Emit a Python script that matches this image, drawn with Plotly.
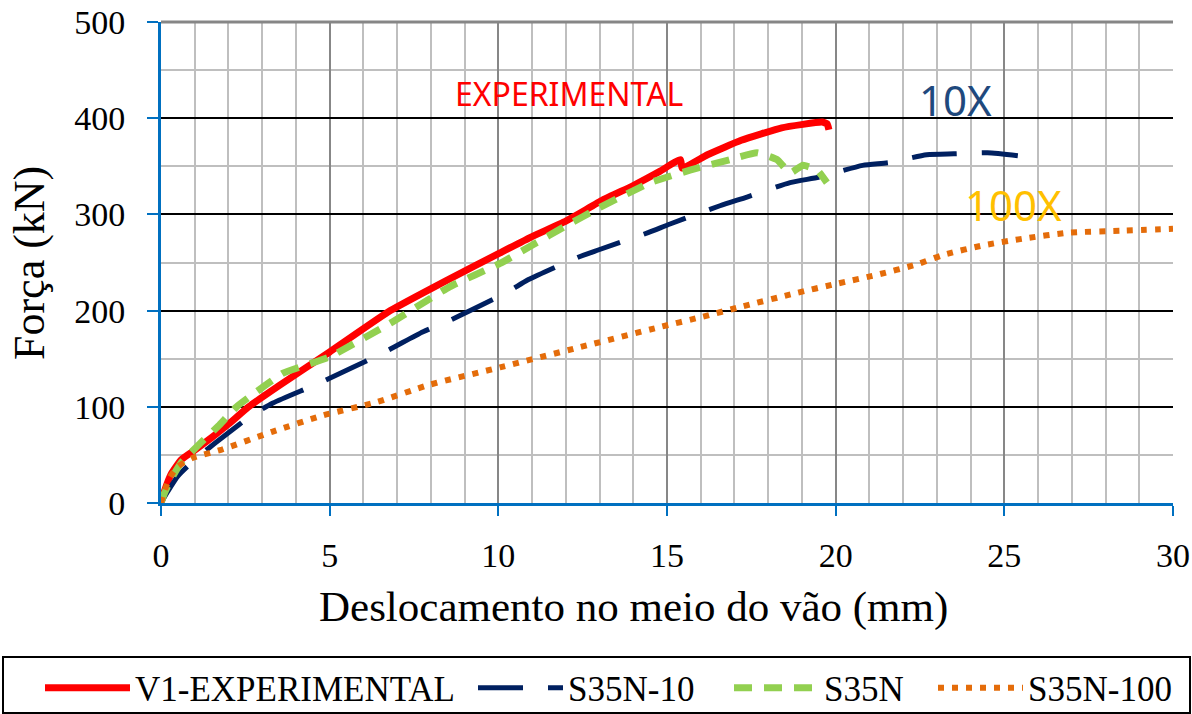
import plotly.graph_objects as go

# ---- data ----
exp_x = [0, 0.1, 0.3, 0.6, 1.0, 1.5, 2.0, 2.6, 3.5, 5.0, 6.8, 8.5, 10.05, 11.0, 12.0, 13.1, 14.0, 14.8, 15.4, 15.45, 16.2, 17.2, 18.4, 19.6, 19.75, 19.8]
exp_y = [0, 12, 30, 45, 55, 68, 82, 100, 122, 157, 200, 232, 260, 277, 293, 315, 330, 345, 357, 348, 362, 377, 390, 396, 394, 388]

s10_x = [0, 0.2, 0.5, 1.0, 1.45, 2.0, 2.64, 3.32, 4.71, 6.58, 7.77, 8.57, 10.26, 10.88, 12.33, 12.96, 14.44, 15.09, 16.57, 17.37, 18.65, 19.54, 20.8, 21.6, 22.7, 23.5, 24.5, 25.4]
s10_y = [0, 12, 28, 45, 58, 73, 90, 104, 125, 156, 178, 190, 219, 232, 255, 263, 281, 290, 309, 318, 333, 339, 351, 354, 362, 363, 364, 361]

s35_x = [0, 0.1, 0.3, 0.6, 1.16, 1.7, 2.24, 3.0, 3.62, 5.0, 6.8, 8.57, 10.05, 11.0, 12.0, 13.0, 14.5, 15.68, 16.87, 17.67, 18.26, 18.65, 19.03, 19.45, 19.74]
s35_y = [0, 10, 25, 42, 62, 80, 100, 120, 135, 152, 187, 225, 249, 268, 288, 307, 333, 346, 357, 364, 357, 343, 351, 346, 333]

s100_x = [0, 0.1, 0.27, 0.5, 0.95, 1.75, 3.29, 4.8, 6.4, 7.97, 10.05, 12.42, 14.8, 15.98, 17.2, 18.8, 20.04, 21.2, 22.4, 23.2, 24.4, 25.6, 26.9, 28.5, 30]
s100_y = [0, 12, 27, 38, 47, 55, 74, 91, 105, 123, 141, 162, 183, 193, 204, 218, 228, 237, 248, 258, 268, 275, 281, 283, 285]

series_names = ["V1-EXPERIMENTAL", "S35N-10", "S35N", "S35N-100"]
x_ticks = [0, 5, 10, 15, 20, 25, 30]
y_ticks = [0, 100, 200, 300, 400, 500]
x_title = "Deslocamento no meio do vão (mm)"
y_title = "Força (kN)"

SERIF = "Liberation Serif, Times New Roman, serif"

fig = go.Figure()
fig.add_trace(go.Scatter(x=exp_x, y=exp_y, mode="lines", name=series_names[0],
                         line=dict(color="#FF0000", width=7, shape="spline", smoothing=0.4), legend="legend"))
fig.add_trace(go.Scatter(x=s10_x, y=s10_y, mode="lines", name=series_names[1],
                         line=dict(color="#002060", width=5, dash="45px,25px", shape="spline", smoothing=0.6), legend="legend2"))
fig.add_trace(go.Scatter(x=s35_x, y=s35_y, mode="lines", name=series_names[2],
                         line=dict(color="#92D050", width=7, dash="18px,12px", shape="spline", smoothing=0.4), legend="legend3"))
fig.add_trace(go.Scatter(x=s100_x, y=s100_y, mode="lines", name=series_names[3],
                         line=dict(color="#E46C0A", width=6, dash="6px,8px", shape="spline", smoothing=0.6), legend="legend4"))

W, H = 1192, 714
L, R, T, B = 161, 19, 22, 211
pw, ph = W - L - R, H - T - B

def px2paper_x(px):
    return (px - L) / pw

def px2paper_y(py):
    return (H - B - py) / ph

leg_common = dict(orientation="h", itemwidth=85, bgcolor="rgba(0,0,0,0)",
                  font=dict(family=SERIF, size=35, color="black"),
                  xanchor="left", yanchor="middle", y=px2paper_y(688))

fig.update_layout(
    width=W, height=H,
    margin=dict(l=L, r=R, t=T, b=B, autoexpand=False),
    paper_bgcolor="white", plot_bgcolor="white",
    showlegend=True,
    legend=dict(x=px2paper_x(40), **leg_common),
    legend2=dict(x=px2paper_x(473), **leg_common),
    legend3=dict(x=px2paper_x(729), **leg_common),
    legend4=dict(x=px2paper_x(933), **leg_common),
    xaxis=dict(
        range=[0, 30], tickvals=x_ticks, ticktext=[str(v) for v in x_ticks],
        showgrid=True, gridcolor="#878787", gridwidth=2,
        minor=dict(dtick=1, showgrid=True, gridcolor="#BFBFBF", gridwidth=2, ticks=""),
        showline=True, linecolor="#0070C0", linewidth=3,
        ticks="outside", ticklen=10, tickwidth=2, tickcolor="#0070C0",
        tickfont=dict(family=SERIF, size=34, color="black"), ticklabelstandoff=10,
        zeroline=False, automargin=False,
    ),
    yaxis=dict(
        range=[0, 500], tickvals=y_ticks, ticktext=[str(v) for v in y_ticks],
        showgrid=True, gridcolor="#000000", gridwidth=2,
        minor=dict(dtick=50, showgrid=True, gridcolor="#BFBFBF", gridwidth=2, ticks=""),
        showline=True, linecolor="#0070C0", linewidth=3,
        ticks="outside", ticklen=11, tickwidth=2, tickcolor="#0070C0",
        tickfont=dict(family=SERIF, size=34, color="black"), ticklabelstandoff=15,
        zeroline=False, automargin=False,
    ),
    annotations=[
        dict(x=px2paper_x(633), y=px2paper_y(607), xref="paper", yref="paper", text=x_title,
             showarrow=False, xanchor="center", yanchor="middle",
             font=dict(family=SERIF, size=43, color="black")),
        dict(x=px2paper_x(29), y=px2paper_y(263), xref="paper", yref="paper", text=y_title,
             showarrow=False, textangle=-90, xanchor="center", yanchor="middle",
             font=dict(family=SERIF, size=44, color="black")),
        dict(x=12.1, y=426, xref="x", yref="y", text="EXPERIMENTAL", showarrow=False,
             font=dict(family="Noto Sans", size=32, color="#FF0000")),
        dict(x=23.54, y=419, xref="x", yref="y", text="10X", showarrow=False,
             font=dict(family="Noto Sans", size=42, color="#1F497D")),
        dict(x=25.26, y=310, xref="x", yref="y", text="100X", showarrow=False,
             font=dict(family="Noto Sans", size=42, color="#FFC000")),
    ],
    shapes=[
        dict(type="line", xref="paper", yref="paper", x0=0, x1=1, y0=1, y1=1,
             line=dict(color="#868686", width=3), layer="above"),
        dict(type="rect", xref="paper", yref="paper",
             x0=px2paper_x(3), x1=px2paper_x(1190), y0=px2paper_y(713), y1=px2paper_y(657),
             line=dict(color="black", width=2), fillcolor="rgba(0,0,0,0)"),
    ],
)

fig.write_html("out.html")
